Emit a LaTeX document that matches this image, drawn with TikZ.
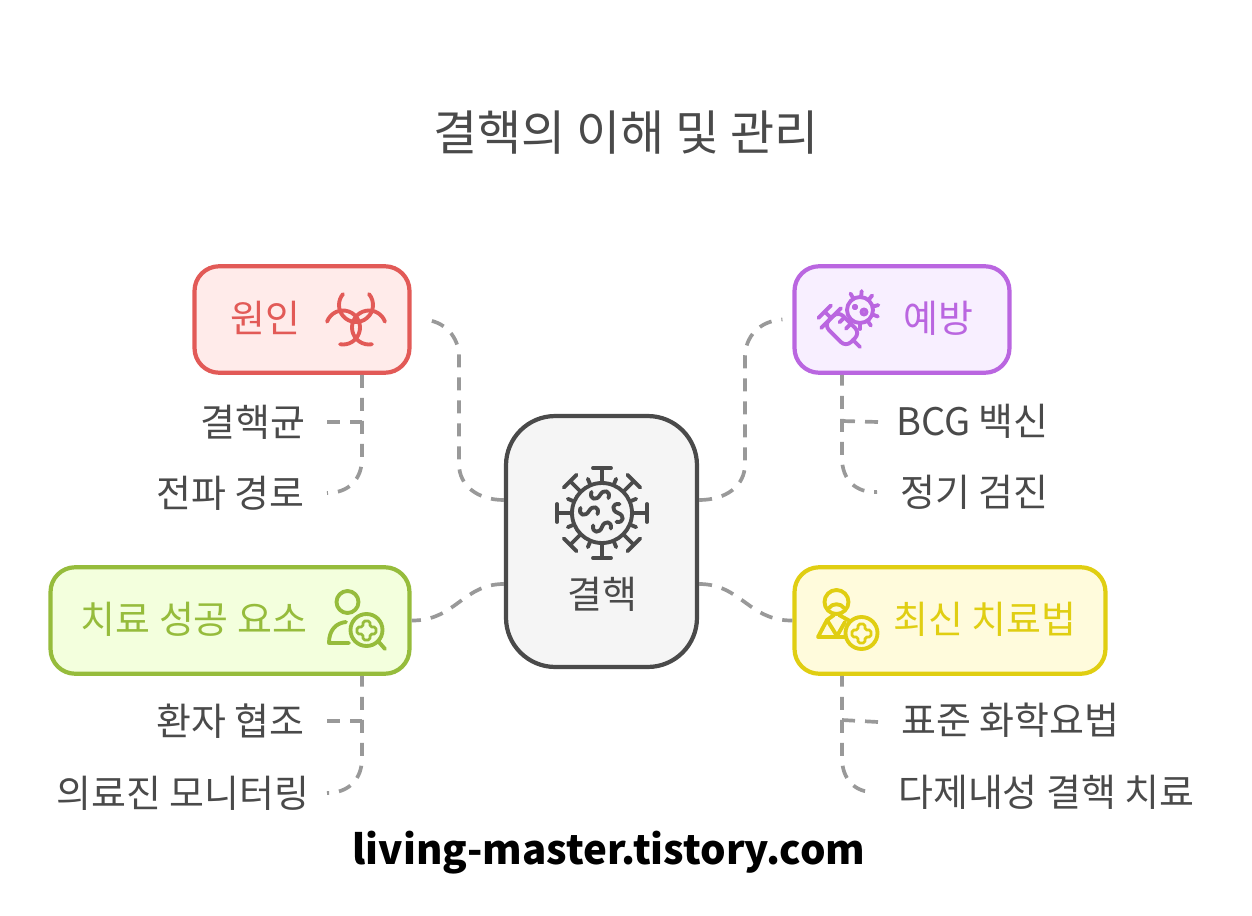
\documentclass[tikz,border=0pt]{standalone}
\usepackage{fontspec}
\setmainfont{Noto Sans CJK KR}
\usepackage{tikz}
\definecolor{redline}{HTML}{E25A57}
\definecolor{redfill}{HTML}{FFEBEA}
\definecolor{purpleline}{HTML}{BA66E0}
\definecolor{purplefill}{HTML}{F8EFFF}
\definecolor{greenline}{HTML}{96BC3C}
\definecolor{greenfill}{HTML}{F3FFDD}
\definecolor{yellowline}{HTML}{E0CE12}
\definecolor{yellowfill}{HTML}{FFFBDC}
\definecolor{darkline}{HTML}{4A4A4A}
\definecolor{darkfill}{HTML}{F5F5F5}
\definecolor{linkgray}{HTML}{999999}
\tikzset{
  box/.style={line width=2.4pt, rounded corners=14pt, minimum height=2.13cm, inner sep=0pt},
  boxtext/.style={inner sep=0pt, font=\fontsize{21.6pt}{26pt}\selectfont},
  sidetext/.style={boxtext, text=darkline, inner xsep=13pt},
  link/.style={draw=linkgray, line width=2.1pt, dash pattern=on 7.4pt off 5.7pt},
  linktail/.style={link, dash phase=1.2pt},
  icon/.style={line width=2.2pt, line cap=round, line join=round}
}
\begin{document}
\begin{tikzpicture}[x=0.02cm,y=-0.02cm]
      \useasboundingbox (0,0) rectangle (1252,916);
      \node [inner sep=0pt, text=darkline, font=\fontsize{27.3pt}{32pt}\selectfont] (title) at (626,133) {결핵의 이해 및 관리};
      % boxes
      \node [box, draw=redline, fill=redfill, minimum width=4.3cm] (cause) at (302,319.5) {};
      \node [box, draw=purpleline, fill=purplefill, minimum width=4.3cm] (prevent) at (902,319.5) {};
      \node [box, draw=greenline, fill=greenfill, minimum width=7.18cm] (success) at (230,620.5) {};
      \node [box, draw=yellowline, fill=yellowfill, minimum width=6.22cm] (therapy) at (950,620.5) {};
      \node [box, draw=darkline, fill=darkfill, rounded corners=28pt, minimum width=3.82cm, minimum height=5.02cm] (tb) at (601.5,541.5) {};
      \node [boxtext, text=redline] (causetext) at (265.5,318) {원인};
      \node [boxtext, text=purpleline] (preventtext) at (938,318) {예방};
      \node [boxtext, text=greenline] (successtext) at (194,619) {치료 성공 요소};
      \node [boxtext, text=yellowline] (therapytext) at (985,619) {최신 치료법};
      \node [boxtext, text=darkline] (tbtext) at (602,594) {결핵};
      % side labels
      \node [sidetext, anchor=east, inner xsep=12pt] (germ) at (327,422) {결핵균};
      \node [sidetext, anchor=east, inner xsep=12.5pt] (route) at (327,493) {전파 경로};
      \node [sidetext, anchor=east, inner xsep=12.5pt] (patient) at (327,721) {환자 협조};
      \node [sidetext, anchor=east, inner xsep=10pt] (monitor) at (327,793) {의료진 모니터링};
      \node [sidetext, anchor=west] (bcg) at (873,421) {BCG 백신};
      \node [sidetext, anchor=west] (checkup) at (877,492) {정기 검진};
      \node [sidetext, anchor=west] (standard) at (878,720) {표준 화학요법};
      \node [sidetext, anchor=west] (mdr) at (875,792) {다제내성 결핵 치료};
      \node [inner sep=0pt, font=\fontsize{22.9pt}{30pt}\selectfont\bfseries] (site) at (609,853) {living-master.tistory.com};
      % links to the middle box
      \coordinate (tbwa) at ([yshift=0.83cm]tb.west);
      \coordinate (tbwb) at ([yshift=-0.85cm]tb.west);
      \coordinate (tbea) at ([yshift=0.83cm]tb.east);
      \coordinate (tbeb) at ([yshift=-0.85cm]tb.east);
      \coordinate (causeout) at ([xshift=0.24cm]cause.east);
      \coordinate (preventout) at ([xshift=-0.2cm]prevent.west);
      \draw [link] (tbwa) .. controls (478,500) and (459,486) .. (459,464) -- (459,357) .. controls (459,337) and (445,321) .. (causeout);
      \draw [link] (tbea) .. controls (726,500) and (745,486) .. (745,464) -- (745,357) .. controls (745,337) and (759,321) .. (preventout);
      \draw [link] (tbwb) .. controls (463,584) and (455,621) .. (success.east);
      \draw [link] (tbeb) .. controls (741,584) and (749,621) .. (therapy.west);
      % links to the side labels
      \coordinate (causetrunk) at (362,400);
      \coordinate (preventtrunk) at (842,400);
      \coordinate (successtrunk) at (362,700);
      \coordinate (therapytrunk) at (842,700);
      \draw [link] (causetrunk |- cause.south) -- (362,458) .. controls (362,480) and (348,493) .. (route.east);
      \draw [link] (germ.east) -- (germ.east -| causetrunk);
      \draw [linktail] (preventtrunk |- prevent.south) -- (842,458) .. controls (842,480) and (856,493) .. (checkup.west);
      \draw [link] (878,422) -- (bcg.west -| preventtrunk);
      \draw [linktail] (successtrunk |- success.south) -- (362,758) .. controls (362,780) and (348,793) .. (monitor.east);
      \draw [link] (patient.east) -- (patient.east -| successtrunk);
      \draw [linktail] (therapytrunk |- therapy.south) -- (842,758) .. controls (842,780) and (856,793) .. (mdr.west);
      \draw [link] (878,722) -- (standard.west -| therapytrunk);
      % biohazard
      \begin{scope}[shift={(356,320)}, icon, draw=redline]
        \foreach \a in {270,30,150} {
          \draw (\a:15) ++(\a+50:17) arc [start angle=\a+50, end angle=\a+310, radius=17];
        }
      \end{scope}
      % virus
      \begin{scope}[shift={(602,513)}, icon, draw=darkline]
        \draw (0,0) circle (30);
        \foreach \a in {0,45,...,315} {
          \draw [rotate=\a] (30,0) -- (45,0) (45,-9) -- (45,9);
        }
        \foreach \a in {22.5,67.5,...,337.5} {
          \draw [rotate=\a] (30,0) -- (37,0);
        }
        \foreach \x/\y/\r in {-2/-18/70, -13/-2/70, 16/0/-10, 0/14/80} {
          \begin{scope}[shift={(\x,\y)}, rotate=\r]
            \draw (0,-9) .. controls (-8,-9) and (-7,-1) .. (0,0) .. controls (7,1) and (8,9) .. (0,9);
          \end{scope}
        }
      \end{scope}
      % syringe and germ
      \begin{scope}[shift={(860,310)}, icon, draw=purpleline]
        \draw (0,0) circle (13);
        \draw (-5,-3) circle (1.5) (4,2) circle (2.5);
        \foreach \a in {-125,-90,...,120} {
          \draw [rotate=\a] (13,0) -- (19,0);
        }
      \end{scope}
      \begin{scope}[shift={(841,328)}, rotate=-45, icon, draw=purpleline, fill=purplefill]
        \draw [fill=purplefill, rounded corners=4pt] (-14,-10) -- (17,-10) -- (17,10) -- (-14,10) -- cycle;
        \draw (-14,-14) -- (-14,14) (-14,0) -- (-23,0) (-23,-9) -- (-23,9) (17,0) -- (27,0);
        \draw (-5,-10) -- (-5,-3) (4,-10) -- (4,-3);
      \end{scope}
      % person with magnifier
      \begin{scope}[icon, draw=greenline]
        \draw (347.5,602) circle (11);
        \draw (349,643) -- (329,643) .. controls (329,630) and (336,623) .. (346,622);
        \draw (366.5,630) circle (16);
        \draw (378,641) -- (385,649);
        \draw [line width=1.6pt, rounded corners=1pt] (363,621) -- (370,621) -- (370,627) -- (376,627) -- (376,634) -- (370,634) -- (370,640) -- (363,640) -- (363,634) -- (357,634) -- (357,627) -- (363,627) -- cycle;
      \end{scope}
      % person with plus
      \begin{scope}[icon, draw=yellowline]
        \draw (836.5,602) circle (12);
        \draw (829,608) .. controls (832,603) and (841,603) .. (844,608);
        \draw (846,637) -- (818,637) -- (827,620) -- (834,615) (827,620) -- (837,636) -- (845,622) (839,615) -- (850,621);
        \draw (861.5,633) circle (16);
        \draw [line width=1.6pt, rounded corners=1pt] (858,624) -- (865,624) -- (865,630) -- (871,630) -- (871,637) -- (865,637) -- (865,643) -- (858,643) -- (858,637) -- (852,637) -- (852,630) -- (858,630) -- cycle;
      \end{scope}
\end{tikzpicture}
\end{document}
